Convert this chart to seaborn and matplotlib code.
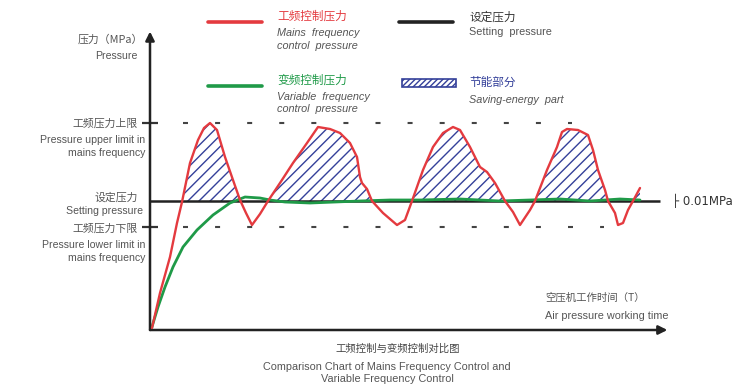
import numpy as np
import matplotlib
matplotlib.use('Agg')
import matplotlib.pyplot as plt
import seaborn as sns
from matplotlib.lines import Line2D
from matplotlib.patches import Rectangle

# ─── Data (schematic units: time along x, pressure along y) ─────────
mains_t = [2, 10, 20, 27, 32, 40, 48, 54, 60, 67, 75, 83, 90, 96, 102, 110, 118,
           130, 143, 157, 168, 180, 190, 200, 207, 210, 212, 217, 222, 233, 247, 255,
           262, 273, 283, 293, 303, 310, 320, 330, 337, 345, 355, 363, 370, 380, 385,
           397, 407, 412, 417, 428, 438, 443, 448, 455, 458, 465, 468, 473, 478, 483, 490]
mains_p = [2, 37, 73, 107, 128, 167, 190, 202, 207, 200, 173, 150, 130, 117, 105, 116, 129,
           147, 167, 187, 203, 201, 197, 187, 173, 153, 147, 141, 129, 117, 105, 110,
           129, 160, 183, 197, 203, 200, 183, 163, 158, 147, 129, 118, 105, 120, 129,
           160, 183, 198, 201, 200, 195, 180, 160, 140, 129, 117, 105, 107, 120, 129, 142]

vf_t = [1, 8, 15, 23, 33, 47, 63, 80, 95, 110, 120, 135, 160, 185, 210, 240, 270,
        310, 350, 380, 410, 440, 470, 490]
vf_p = [0, 23, 43, 63, 83, 100, 115, 127, 133, 132, 130, 128, 127, 128, 129, 130, 130,
        131, 129, 130, 131, 129, 131, 130]

setting_p = 129
upper_p = 207
lower_p = 103

RED = '#e43a3f'
GREEN = '#1f9a48'
NAVY = '#34409a'
DARK = '#222222'
GRAY = '#555555'

# ─── Style ──────────────────────────────────────────────────────────
sns.set_theme(style='white')
plt.rcParams['font.family'] = ['Liberation Sans', 'Noto Sans CJK SC', 'DejaVu Sans']
plt.rcParams['hatch.linewidth'] = 1.0
CJK = ['Noto Sans CJK SC', 'DejaVu Sans']

W, H = 739, 384
fig = plt.figure(figsize=(W / 100, H / 100), dpi=100)
fig.patch.set_facecolor('white')


def fx(px):
    return px / W


def fy(py):
    return 1 - py / H


ax = fig.add_axes([fx(150), fy(330), 520 / W, 300 / H])
ax.set_xlim(0, 520)
ax.set_ylim(0, 300)
ax.patch.set_alpha(0)
for s in ax.spines.values():
    s.set_visible(False)
ax.set_xticks([])
ax.set_yticks([lower_p, upper_p])
ax.tick_params(axis='y', direction='inout', length=12, width=1.6, color='#333333',
               labelleft=False, left=True)

# ─── Reference lines ────────────────────────────────────────────────
dash = (0, (2.4, 13.0))
ax.hlines(upper_p, 33, 422, colors='#444444', linewidth=1.5, linestyles=[dash])
ax.hlines(lower_p, 33, 454, colors='#444444', linewidth=1.5, linestyles=[dash])
ax.hlines(setting_p, 0, 510, colors=DARK, linewidth=1.8, zorder=2)

# ─── Saving-energy hatch ────────────────────────────────────────────
mt = np.array(mains_t)
mp = np.array(mains_p)
ax.fill_between(mt, setting_p, mp, where=mp >= setting_p, interpolate=True,
                facecolor='none', edgecolor=NAVY, hatch='///', linewidth=0, zorder=1)

# ─── Curves ─────────────────────────────────────────────────────────
sns.lineplot(x=vf_t, y=vf_p, sort=False, estimator=None, color=GREEN, linewidth=2.0,
             ax=ax, zorder=3)
sns.lineplot(x=mains_t, y=mains_p, sort=False, estimator=None, color=RED, linewidth=1.7,
             ax=ax, zorder=4)

# ─── Axis arrows ────────────────────────────────────────────────────
arrow = dict(arrowstyle='-|>', lw=1.8, color=DARK, mutation_scale=13, shrinkA=0, shrinkB=0)
ax.annotate('', xy=(0, 0.995), xytext=(0, 0), xycoords='axes fraction', arrowprops=arrow,
            annotation_clip=False)
ax.annotate('', xy=(0.995, 0), xytext=(0, 0), xycoords='axes fraction', arrowprops=arrow,
            annotation_clip=False)

ax.text(522, setting_p, '├ 0.01MPa', fontsize=8.5, color='#333333', va='center',
        ha='left', family=['DejaVu Sans'], clip_on=False)

# ─── Left labels ────────────────────────────────────────────────────
def txt(px, py, s, ha='right', size=7.6, color=GRAY, family=None, style='normal'):
    fig.text(fx(px), fy(py), s, ha=ha, va='center', fontsize=size, color=color,
             family=family if family else plt.rcParams['font.family'], fontstyle=style)


txt(143, 39, '压力（MPa）', family=CJK, size=7.8)
txt(137, 56, 'Pressure')
txt(138, 124, '工频压力上限', family=CJK, size=7.8)
txt(145, 140, 'Pressure upper limit in')
txt(145, 153, 'mains frequency')
txt(138, 197, '设定压力', family=CJK, size=7.8)
txt(143, 211, 'Setting pressure')
txt(138, 229, '工频压力下限', family=CJK, size=7.8)
txt(145, 245, 'Pressure lower limit in')
txt(145, 258, 'mains frequency')

# ─── Legend (drawn by hand) ─────────────────────────────────────────
fig.add_artist(Line2D([fx(208), fx(262)], [fy(22), fy(22)], color=RED, lw=2.6,
                      solid_capstyle='round'))
txt(277, 16, '工频控制压力', ha='left', family=CJK, size=8.4, color=RED)
txt(277, 33, 'Mains  frequency', ha='left', style='italic', size=7.8)
txt(277, 46, 'control  pressure', ha='left', style='italic', size=7.8)

fig.add_artist(Line2D([fx(208), fx(262)], [fy(86), fy(86)], color=GREEN, lw=2.6,
                      solid_capstyle='round'))
txt(277, 80, '变频控制压力', ha='left', family=CJK, size=8.4, color=GREEN)
txt(277, 97, 'Variable  frequency', ha='left', style='italic', size=7.8)
txt(277, 109, 'control  pressure', ha='left', style='italic', size=7.8)

fig.add_artist(Line2D([fx(399), fx(453)], [fy(22), fy(22)], color=DARK, lw=2.6,
                      solid_capstyle='round'))
txt(469, 17, '设定压力', ha='left', family=CJK, size=8.4, color='#333333')
txt(469, 32, 'Setting  pressure', ha='left', size=7.8)

fig.add_artist(Rectangle((fx(402), fy(87)), fx(456) - fx(402), fy(79) - fy(87),
                         facecolor='white', edgecolor=NAVY, hatch='//////', lw=1.2,
                         transform=fig.transFigure))
txt(469, 82, '节能部分', ha='left', family=CJK, size=8.4, color=NAVY)
txt(469, 100, 'Saving-energy  part', ha='left', style='italic', size=7.8)

# ─── Bottom texts ───────────────────────────────────────────────────
txt(545, 298, '空压机工作时间（T）', ha='left', family=CJK, size=7.5)
txt(545, 316, 'Air pressure working time', ha='left', size=7.8)
txt(398, 349, '工频控制与变频控制对比图', ha='center', family=CJK, size=7.5, color='#444444')
txt(387, 367, 'Comparison Chart of Mains Frequency Control and', ha='center', size=7.8)
txt(387, 379, 'Variable Frequency Control', ha='center', size=7.8)

fig.savefig('out.png', dpi=100, facecolor='white')
